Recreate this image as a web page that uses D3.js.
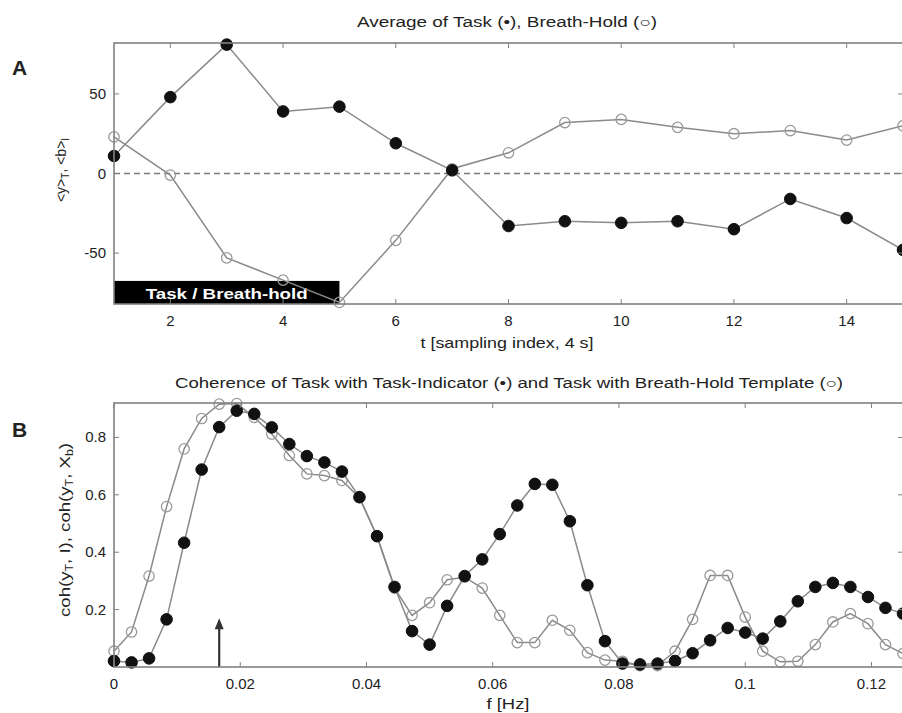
<!DOCTYPE html>
<html>
<head>
<meta charset="utf-8">
<script src="https://cdn.jsdelivr.net/npm/d3@7"></script>
<style>
  html, body { margin: 0; padding: 0; background: #fff; }
  svg { display: block; font-family: "Liberation Sans", Arial, sans-serif; }
</style>
</head>
<body>
<svg id="chart" width="902" height="713"></svg>
<script>
// Panel A - averages over the sampling index
const sampleIdx = [1, 2, 3, 4, 5, 6, 7, 8, 9, 10, 11, 12, 13, 14, 15];
const taskAvg   = [11, 48, 81, 39, 42, 19, 2, -33, -30, -31, -30, -35, -16, -28, -48];
const breathAvg = [23, -1, -53, -67, -81, -42, 3, 13, 32, 34, 29, 25, 27, 21, 30];
const taskBlock = { from: 1, to: 5, label: "Task / Breath-hold" };
const ticksA_x = [2, 4, 6, 8, 10, 12, 14];
const ticksA_y = [-50, 0, 50];

// Panel B - coherence spectra, 46 bins of 1/360 Hz (0 .. 0.125 Hz)
const freqStep = 1 / 360;
const cohTask = [0.021, 0.016, 0.030, 0.166, 0.433, 0.688, 0.836, 0.893, 0.882, 0.835,
                 0.777, 0.735, 0.713, 0.681, 0.592, 0.456, 0.279, 0.125, 0.078, 0.213,
                 0.317, 0.375, 0.463, 0.563, 0.638, 0.635, 0.508, 0.285, 0.090, 0.012,
                 0.009, 0.012, 0.021, 0.048, 0.093, 0.136, 0.120, 0.099, 0.159, 0.229,
                 0.279, 0.293, 0.279, 0.244, 0.206, 0.186];
const cohBreath = [0.055, 0.122, 0.317, 0.559, 0.760, 0.866, 0.916, 0.918, 0.870, 0.812,
                   0.737, 0.673, 0.667, 0.650, 0.590, 0.455, 0.275, 0.180, 0.224, 0.304,
                   0.313, 0.275, 0.180, 0.085, 0.085, 0.163, 0.128, 0.050, 0.024, 0.020,
                   0.005, 0.005, 0.055, 0.166, 0.319, 0.319, 0.174, 0.055, 0.018, 0.020,
                   0.078, 0.157, 0.186, 0.151, 0.078, 0.047];
const taskFreq = { f: 1 / 60, height: 0.17 };
const ticksB_x = [0, 0.02, 0.04, 0.06, 0.08, 0.1, 0.12];
const ticksB_y = [0.2, 0.4, 0.6, 0.8];

const svg = d3.select("#chart");
const axisCol = "#808080", lineCol = "#8a8a8a", textCol = "#222";

// text that is stretched to the width it has in the figure
function label(g, x, y, str, size, width) {
  return g.append("text").attr("x", x).attr("y", y)
    .attr("text-anchor", "middle").attr("font-size", size).attr("fill", textCol)
    .attr("textLength", width).attr("lengthAdjust", "spacingAndGlyphs")
    .text(str);
}

// shared frame drawing: box + inward ticks on all four sides (matlab style)
function drawFrame(g, x, y, xt, yt, fmtX, fmtY) {
  const [x0, x1] = x.range(), [y0, y1] = y.range();
  g.append("rect")
    .attr("x", x0).attr("y", y1).attr("width", x1 - x0).attr("height", y0 - y1)
    .attr("fill", "none").attr("stroke", axisCol).attr("stroke-width", 1.6);

  const tl = 5;
  g.append("g").selectAll("line").data(xt).join("line")
    .attr("x1", d => x(d)).attr("x2", d => x(d)).attr("y1", y0).attr("y2", y0 - tl)
    .attr("stroke", axisCol);
  g.append("g").selectAll("line").data(xt).join("line")
    .attr("x1", d => x(d)).attr("x2", d => x(d)).attr("y1", y1).attr("y2", y1 + tl)
    .attr("stroke", axisCol);
  g.append("g").selectAll("line").data(yt).join("line")
    .attr("x1", x0).attr("x2", x0 + tl).attr("y1", d => y(d)).attr("y2", d => y(d))
    .attr("stroke", axisCol);
  g.append("g").selectAll("line").data(yt).join("line")
    .attr("x1", x1 - tl).attr("x2", x1).attr("y1", d => y(d)).attr("y2", d => y(d))
    .attr("stroke", axisCol);

  g.append("g").selectAll("text").data(xt).join("text")
    .attr("x", d => x(d)).attr("y", y0 + 22)
    .attr("text-anchor", "middle").attr("font-size", 15).attr("fill", textCol)
    .text(fmtX);
  g.append("g").selectAll("text").data(yt).join("text")
    .attr("x", x0 - 8).attr("y", d => y(d) + 5)
    .attr("text-anchor", "end").attr("font-size", 15).attr("fill", textCol)
    .text(fmtY);
}

function drawSeries(g, pts, x, y, filled) {
  const line = d3.line().x(d => x(d[0])).y(d => y(d[1]));
  g.append("path").datum(pts)
    .attr("d", line).attr("fill", "none")
    .attr("stroke", lineCol).attr("stroke-width", 1.5);
  g.append("g").selectAll("circle").data(pts).join("circle")
    .attr("cx", d => x(d[0])).attr("cy", d => y(d[1]))
    .attr("r", filled ? 5.8 : 5.2)
    .attr("fill", filled ? "#111" : "#fff")
    .attr("fill-opacity", filled ? 1 : 0)
    .attr("stroke", filled ? "#111" : "#9a9a9a")
    .attr("stroke-width", filled ? 1 : 1.3);
}

// ---------------- Panel A ----------------
const xA = d3.scaleLinear().domain([1, 15]).range([114, 903]);
const yA = d3.scaleLinear().domain([-82, 82]).range([304, 43]);
const gA = svg.append("g");

gA.append("line")
  .attr("x1", xA(1)).attr("x2", xA(15)).attr("y1", yA(0)).attr("y2", yA(0))
  .attr("stroke", "#7a7a7a").attr("stroke-width", 1.3).attr("stroke-dasharray", "6,4");

gA.append("rect")
  .attr("x", xA(taskBlock.from)).attr("y", yA(-67.5))
  .attr("width", xA(taskBlock.to) - xA(taskBlock.from))
  .attr("height", yA(-82) - yA(-67.5))
  .attr("fill", "#000");
label(gA, (xA(taskBlock.from) + xA(taskBlock.to)) / 2, yA(-82) - 5, taskBlock.label, 15, 162)
  .attr("font-weight", "bold").attr("fill", "#fff");

drawSeries(gA, sampleIdx.map((t, i) => [t, breathAvg[i]]), xA, yA, false);
drawSeries(gA, sampleIdx.map((t, i) => [t, taskAvg[i]]), xA, yA, true);
drawFrame(gA, xA, yA, ticksA_x, ticksA_y, d => d, d => d);

label(gA, 507, 27, "Average of Task (\u2022), Breath-Hold (\u25CB)", 14, 300);
label(gA, 507, 348, "t [sampling index, 4 s]", 15, 173);
gA.append("text").attr("x", 12).attr("y", 75).attr("font-size", 21)
  .attr("font-weight", "bold").attr("fill", textCol).text("A");

const ylabA = gA.append("text").attr("transform", "translate(66,170) rotate(-90)")
  .attr("text-anchor", "middle").attr("font-size", 14).attr("fill", textCol);
ylabA.append("tspan").text("<y>");
ylabA.append("tspan").attr("font-size", 10).attr("dy", 3).text("T");
ylabA.append("tspan").attr("dy", -3).text(", <b>");
ylabA.append("tspan").attr("font-size", 10).attr("dy", 3).text("I");

// ---------------- Panel B ----------------
const xB = d3.scaleLinear().domain([0, 0.125]).range([114, 903]);
const yB = d3.scaleLinear().domain([0, 0.92]).range([667, 403]);
const gB = svg.append("g");

// arrow marking the task frequency
gB.append("line")
  .attr("x1", xB(taskFreq.f)).attr("x2", xB(taskFreq.f))
  .attr("y1", yB(0)).attr("y2", yB(taskFreq.height) + 8)
  .attr("stroke", "#333").attr("stroke-width", 2.2);
gB.append("path")
  .attr("d", `M${xB(taskFreq.f)},${yB(taskFreq.height)} l-4.5,11 h9 z`)
  .attr("fill", "#333");

drawSeries(gB, cohBreath.map((v, i) => [i * freqStep, v]), xB, yB, false);
drawSeries(gB, cohTask.map((v, i) => [i * freqStep, v]), xB, yB, true);
drawFrame(gB, xB, yB, ticksB_x, ticksB_y, d => d, d => d3.format(".1f")(d));

label(gB, 509, 388,
  "Coherence of Task with Task-Indicator (\u2022) and Task with Breath-Hold Template (\u25CB)", 14, 668);
label(gB, 508, 709, "f [Hz]", 15, 43);
gB.append("text").attr("x", 12).attr("y", 437).attr("font-size", 21)
  .attr("font-weight", "bold").attr("fill", textCol).text("B");

const ylabB = gB.append("text").attr("transform", "translate(70,530) rotate(-90)")
  .attr("text-anchor", "middle").attr("font-size", 15).attr("fill", textCol)
  .attr("textLength", 174).attr("lengthAdjust", "spacingAndGlyphs");
ylabB.append("tspan").text("coh(y");
ylabB.append("tspan").attr("font-size", 10).attr("dy", 3).text("T");
ylabB.append("tspan").attr("dy", -3).text(", I), coh(y");
ylabB.append("tspan").attr("font-size", 10).attr("dy", 3).text("T");
ylabB.append("tspan").attr("dy", -3).text(", X");
ylabB.append("tspan").attr("font-size", 10).attr("dy", 3).text("b");
ylabB.append("tspan").attr("dy", -3).text(")");
</script>
</body>
</html>
